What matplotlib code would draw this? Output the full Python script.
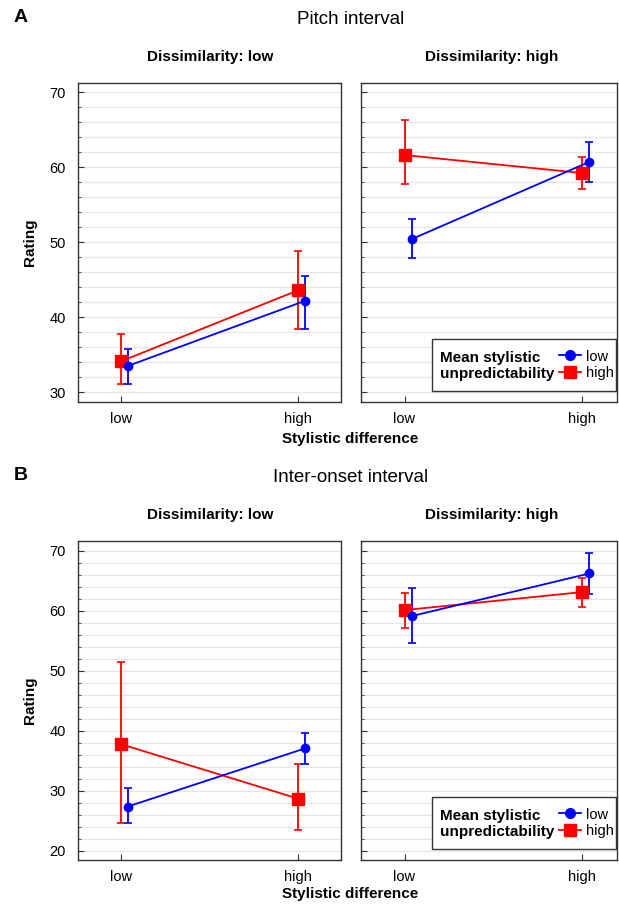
import matplotlib

matplotlib.use("Agg")
import matplotlib.pyplot as plt
from matplotlib.lines import Line2D
from matplotlib.patches import Rectangle
from matplotlib.ticker import MultipleLocator

plt.rcParams["font.family"] = ["Liberation Sans", "DejaVu Sans"]

# stylistic difference levels on the x axis
levels = ["low", "high"]

# Pitch interval: means and (lower, upper) error bar ends
pitch_dlow_ulow = [33.5, 42.2]
pitch_dlow_ulow_ci = [(31.1, 35.8), (38.4, 45.5)]
pitch_dlow_uhigh = [34.1, 43.6]
pitch_dlow_uhigh_ci = [(31.1, 37.7), (38.4, 48.8)]
pitch_dhigh_ulow = [50.4, 60.7]
pitch_dhigh_ulow_ci = [(47.9, 53.1), (58.0, 63.4)]
pitch_dhigh_uhigh = [61.6, 59.2]
pitch_dhigh_uhigh_ci = [(57.7, 66.3), (57.1, 61.3)]

# Inter-onset interval
ioi_dlow_ulow = [27.4, 37.1]
ioi_dlow_ulow_ci = [(24.6, 30.5), (34.4, 39.6)]
ioi_dlow_uhigh = [37.8, 28.7]
ioi_dlow_uhigh_ci = [(24.6, 51.4), (23.5, 34.4)]
ioi_dhigh_ulow = [59.1, 66.2]
ioi_dhigh_ulow_ci = [(54.7, 63.7), (62.8, 69.6)]
ioi_dhigh_uhigh = [60.1, 63.1]
ioi_dhigh_uhigh_ci = [(57.1, 63.0), (60.6, 65.5)]

W, H = 619, 907
fig = plt.figure(figsize=(W / 100, H / 100), dpi=100)


def px_box(x0, y0, x1, y1):
    return [x0 / W, 1 - y1 / H, (x1 - x0) / W, (y1 - y0) / H]


def fig_text(x, y, s, **kw):
    fig.text(x / W, 1 - y / H, s, ha="center", va="center", **kw)


def draw_series(ax, mean, ci, color, marker, ms, dx):
    x = [i + dx for i in range(len(mean))]
    lo = [m - c[0] for m, c in zip(mean, ci)]
    hi = [c[1] - m for m, c in zip(mean, ci)]
    ax.errorbar(x, mean, yerr=[lo, hi], color=color, marker=marker, ms=ms,
                lw=1.3, elinewidth=1.3, capsize=3, capthick=1.2, zorder=3)


def style_axes(ax, xlim, ylim, ylabels):
    ax.set_xlim(*xlim)
    ax.set_ylim(*ylim)
    ax.set_xticks([0, 1], levels)
    ax.yaxis.set_major_locator(MultipleLocator(10))
    ax.yaxis.set_minor_locator(MultipleLocator(2))
    ax.grid(True, which="both", axis="y", color="#e6e6e6", lw=0.9)
    ax.set_axisbelow(True)
    ax.tick_params(axis="both", which="both", direction="in", color="#333333")
    ax.tick_params(axis="y", which="major", length=4, pad=9, labelsize=10.5)
    ax.tick_params(axis="y", which="minor", length=2)
    ax.tick_params(axis="x", length=4, pad=7.5, labelsize=10.5)
    if not ylabels:
        ax.tick_params(axis="y", labelleft=False)
    for sp in ax.spines.values():
        sp.set_color("#333333")
        sp.set_linewidth(1.0)


def add_legend(ax):
    ax.add_patch(Rectangle((0.276, 0.035), 0.72, 0.162, transform=ax.transAxes,
                           fc="white", ec="#333333", lw=1.0, zorder=5))
    ax.text(0.31, 0.113, "Mean stylistic\nunpredictability", transform=ax.transAxes,
            ha="left", va="center", fontsize=11, fontweight="bold",
            linespacing=1.2, zorder=6)
    handles = [
        Line2D([], [], color="blue", marker="o", ms=7, lw=1.3),
        Line2D([], [], color="red", marker="s", ms=9, lw=1.3),
    ]
    leg = ax.legend(handles, ["low", "high"], loc="center left",
                    bbox_to_anchor=(0.775, 0.116), frameon=False, fontsize=10.5,
                    handlelength=1.5, handletextpad=0.3, labelspacing=0.2,
                    borderpad=0, borderaxespad=0)
    leg.set_zorder(7)


panels = [
    # top offset, ylim, title, letter, x-label y, data for low / high dissimilarity
    (0, (28.7, 71.2), "Pitch interval", "A", 439,
     [(pitch_dlow_ulow, pitch_dlow_ulow_ci, pitch_dlow_uhigh, pitch_dlow_uhigh_ci),
      (pitch_dhigh_ulow, pitch_dhigh_ulow_ci, pitch_dhigh_uhigh, pitch_dhigh_uhigh_ci)]),
    (458, (18.5, 71.6), "Inter-onset interval", "B", 894,
     [(ioi_dlow_ulow, ioi_dlow_ulow_ci, ioi_dlow_uhigh, ioi_dlow_uhigh_ci),
      (ioi_dhigh_ulow, ioi_dhigh_ulow_ci, ioi_dhigh_uhigh, ioi_dhigh_uhigh_ci)]),
]

for off, ylim, title, letter, xlab_y, data in panels:
    top, bot = 83 + off, 402 + off
    ax_l = fig.add_axes(px_box(78, top, 341, bot))
    ax_r = fig.add_axes(px_box(361, top, 617, bot))

    for ax, (ml, cl, mh, ch), xlim, first in [
        (ax_l, data[0], (-0.24, 1.24), True),
        (ax_r, data[1], (-0.245, 1.195), False),
    ]:
        draw_series(ax, mh, ch, "red", "s", 8, 0.0)
        draw_series(ax, ml, cl, "blue", "o", 6, 0.04)
        style_axes(ax, xlim, ylim, first)

    ax_l.set_ylabel("Rating", fontsize=11, fontweight="bold", labelpad=9)
    add_legend(ax_r)

    fig_text(21, 17 + off, letter, fontsize=14, fontweight="bold")
    fig_text(351, 20 + off, title, fontsize=13.5)
    fig_text(210, 57 + off, "Dissimilarity: low", fontsize=11, fontweight="bold")
    fig_text(492, 57 + off, "Dissimilarity: high", fontsize=11, fontweight="bold")
    fig_text(350, xlab_y, "Stylistic difference", fontsize=11, fontweight="bold")

fig.savefig("out.png", dpi=100)
